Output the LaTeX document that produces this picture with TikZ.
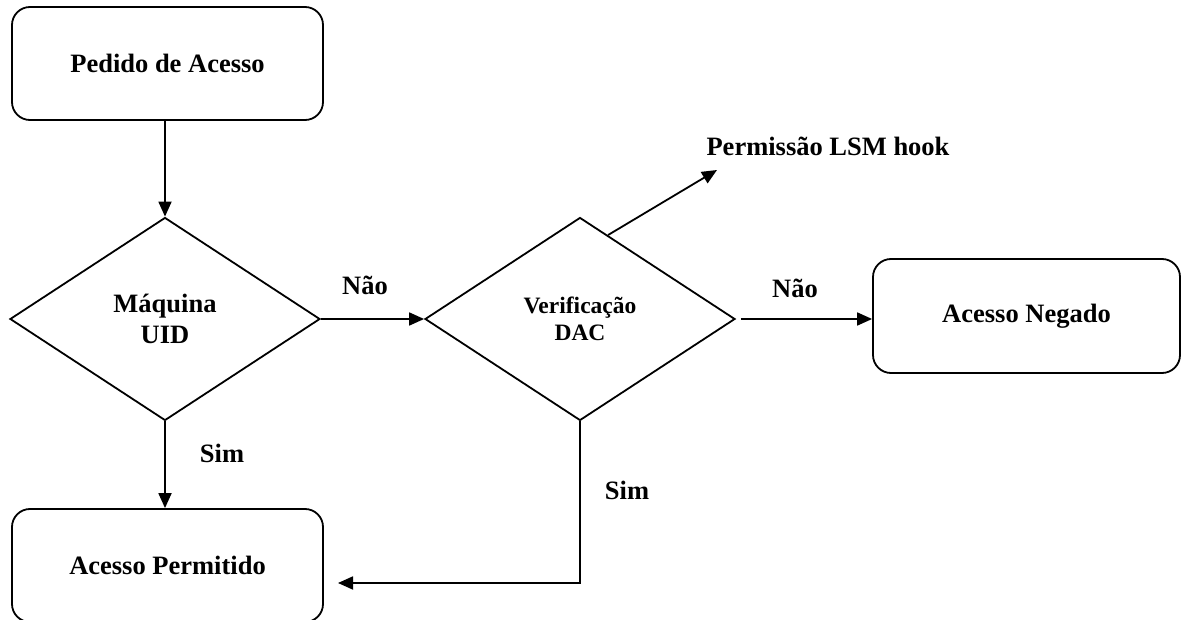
\documentclass[tikz,border=0pt]{standalone}
\usepackage{fontspec}
\setmainfont{Liberation Serif}
\usetikzlibrary{arrows.meta, positioning, calc, shapes.geometric}

\begin{document}
\begin{tikzpicture}[x=1pt, y=-1pt, >={Triangle[length=15pt, width=13pt]}, line width=1.8pt]
    \tikzstyle{box} = [rectangle, draw, rounded corners=18pt, minimum width=311pt, minimum height=113pt, font=\fontsize{26.5}{31}\selectfont\bfseries]
    \tikzstyle{test} = [diamond, draw, inner sep=0pt, minimum width=310pt, minimum height=203pt, align=center]
    \tikzstyle{lbl} = [inner sep=0pt, font=\fontsize{26.5}{31}\selectfont\bfseries]

    \useasboundingbox (0,0) rectangle (1181,620);

    % Define nodes
    \node[box] (pedido) at (167.5,63.5) {Pedido de Acesso};
    \node[test, font=\fontsize{26.5}{31}\selectfont\bfseries] (maquina) at (165,319) {Máquina\\UID};
    \node[test, font=\fontsize{23.5}{27}\selectfont\bfseries] (dac) at (580,319) {Verificação\\DAC};
    \node[box, minimum width=307pt, minimum height=114pt] (negado) at (1026.5,316) {Acesso Negado};
    \node[box] (permitido) at (167.5,565.5) {Acesso Permitido};
    \node[lbl] (hook) at (828,146) {Permissão LSM hook};
    \coordinate (hooktip) at (717,170);
    \coordinate (simtip) at (338,583);

    % Draw edges
    \draw[->] (maquina.north |- pedido.south) -- (maquina.north);
    \draw[->] (maquina.east) -- (dac.west);
    \draw[->] ($(dac.north)!0.18!(dac.east)$) -- (hooktip);
    \draw[->, shorten <=5pt] (dac.east) -- (dac.east -| negado.west);
    \draw[->] (maquina.south) -- (maquina.south |- permitido.north);
    \draw[->] (dac.south) |- (simtip);

    % Edge labels
    \node[lbl] (nao1) at (365,285) {Não};
    \node[lbl] (nao2) at (795,288) {Não};
    \node[lbl] (sim1) at (222,453) {Sim};
    \node[lbl] (sim2) at (627,490) {Sim};
\end{tikzpicture}
\end{document}
